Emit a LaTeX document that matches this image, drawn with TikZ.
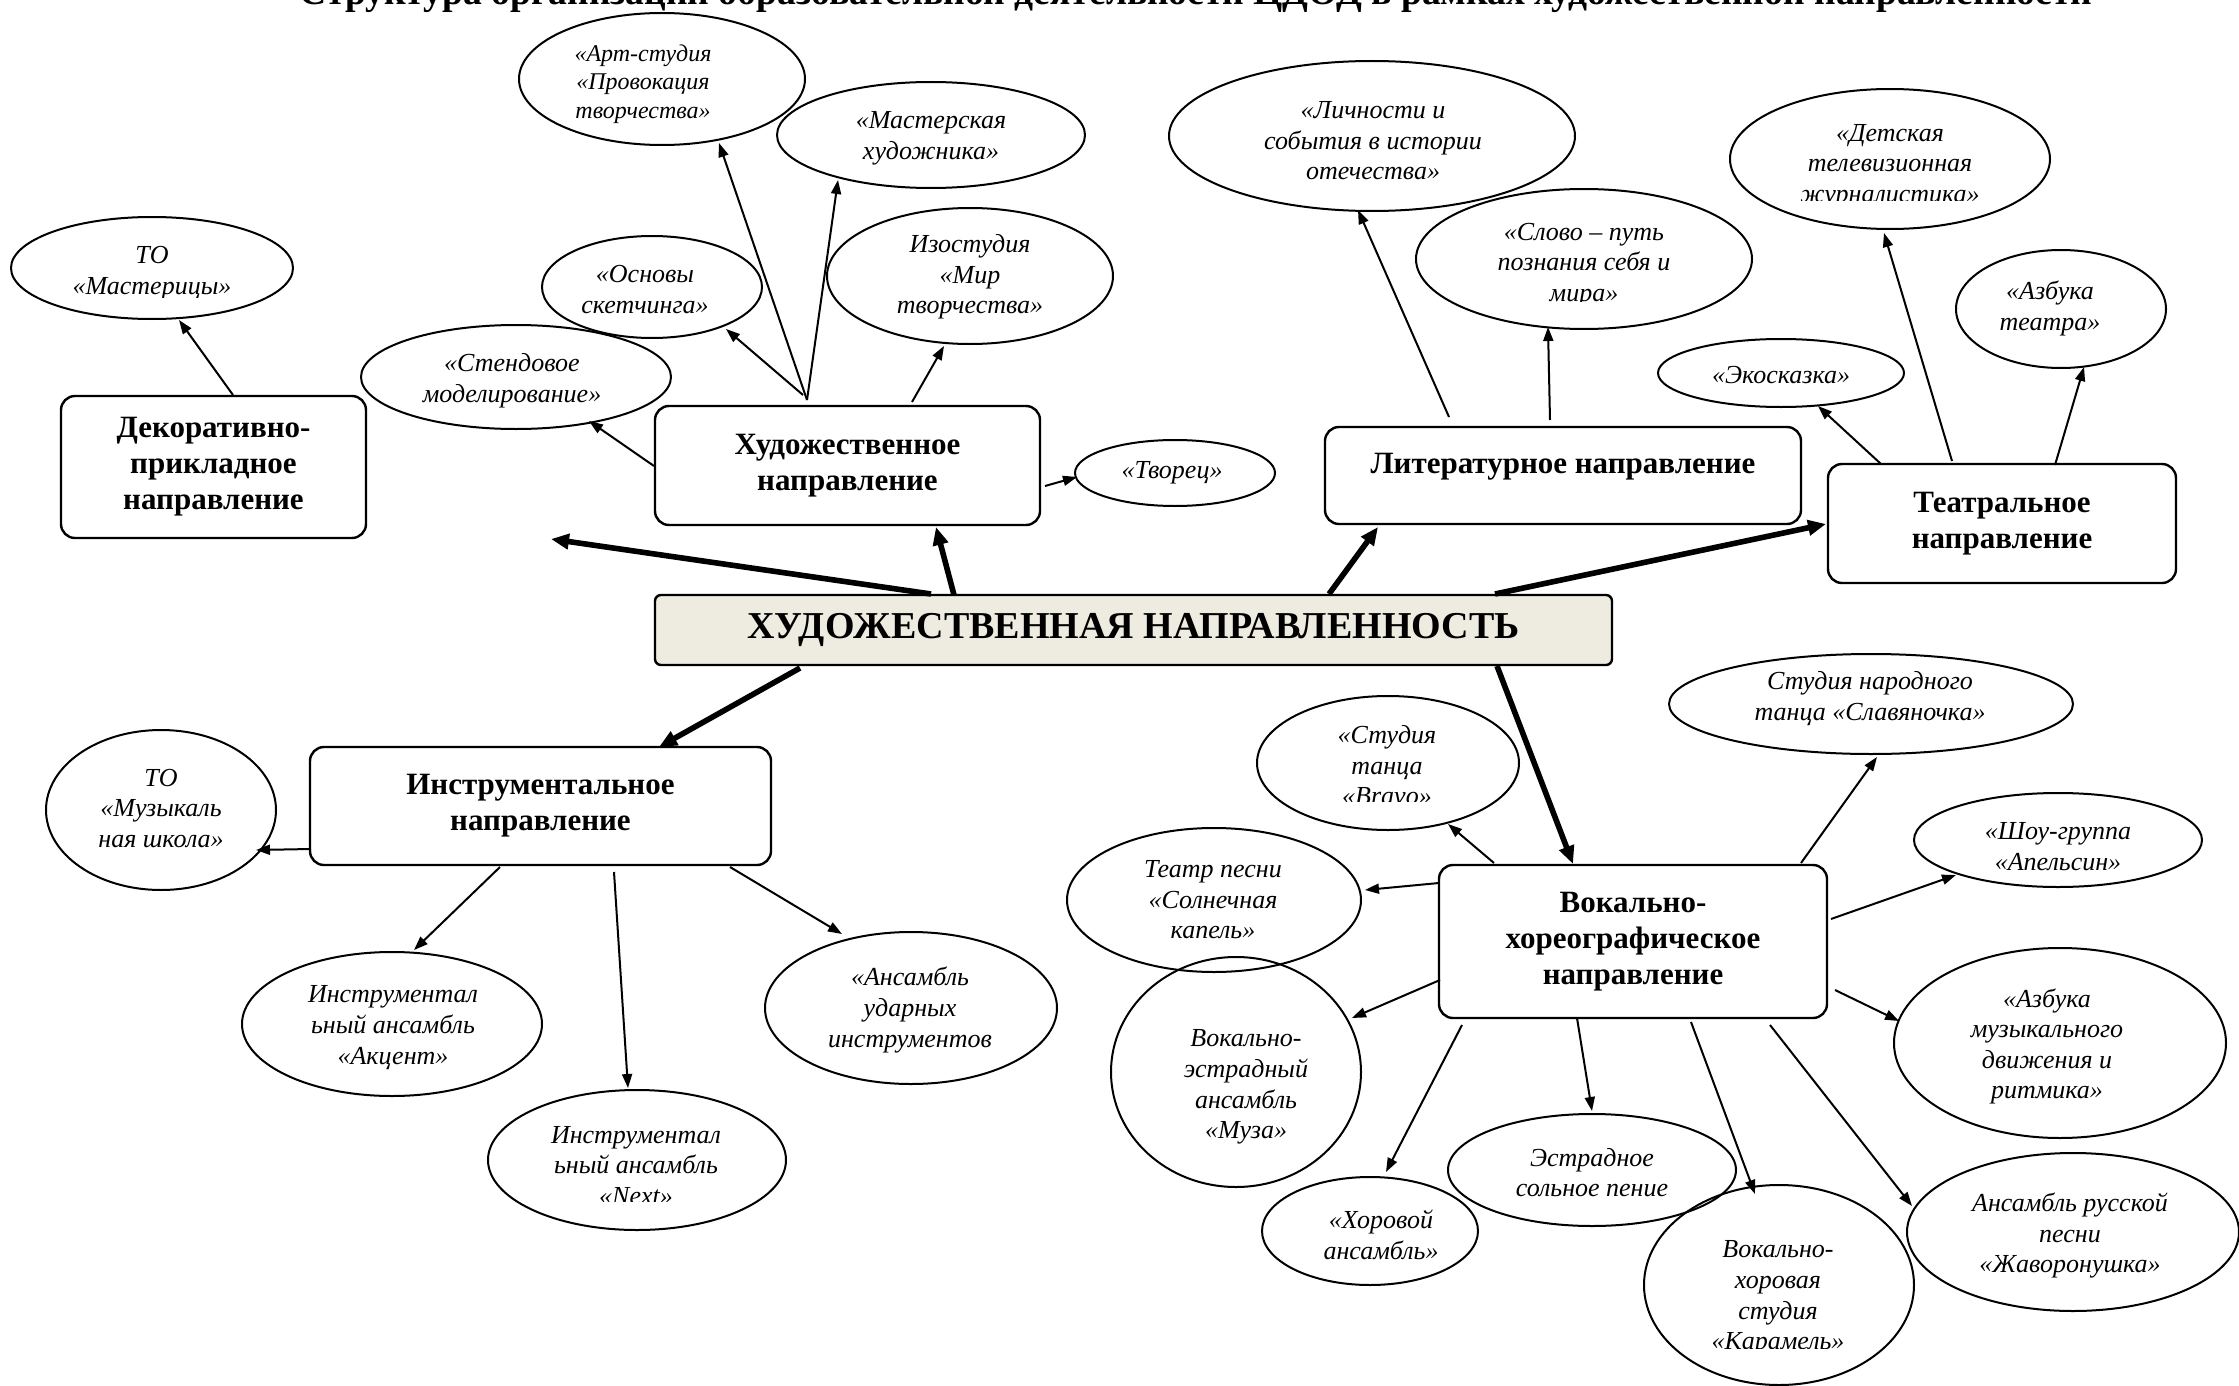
\documentclass[tikz,border=0pt]{standalone}
\usepackage{fontspec}
\setmainfont{Liberation Serif}
\usetikzlibrary{arrows.meta,shapes.geometric}
\definecolor{cenfill}{HTML}{EEECE1}
\tikzset{
  box/.style={draw, line width=1.2pt, rounded corners=7pt, align=center,
    font=\bfseries\fontsize{15.5}{18}\selectfont, inner sep=2pt},
  ell/.style={draw, ellipse, line width=1pt, inner sep=0pt},
  etxt/.style={align=center, font=\itshape\fontsize{13}{15.3}\selectfont, inner sep=0pt},
  arr/.style={line width=1pt, -{Triangle[length=7pt,width=5pt]}},
  bigarr/.style={line width=2.8pt, -{Triangle[length=9pt,width=7.5pt]}},
}
% name, cx, cy, rx, ry, tx, ty, text
\newcommand\ellip[8]{%
  \node[ell, minimum width={#4*1pt}, minimum height={#5*1pt}] (#1) at (#2,#3) {};
  \node[etxt] (#1-t) at (#6,#7) {#8};}
% same, clipped below y = #9
\newcommand\ellipc[9]{%
  \node[ell, minimum width={#4*1pt}, minimum height={#5*1pt}] (#1) at (#2,#3) {};
  \begin{scope}\clip (#2-#4,#3-#5) rectangle (#2+#4,#9);
  \node[etxt] (#1-t) at (#6,#7) {#8};\end{scope}}
\begin{document}
\begin{tikzpicture}[x=0.5pt,y=-0.5pt]
\useasboundingbox (0,0) rectangle (2239,1386);
\clip (0,0) rectangle (2239,1386);

% title (cut at top edge, as in the reference)
\node[font=\bfseries\fontsize{18.8}{20}\selectfont, anchor=base, inner sep=0pt] (title) at (1196,5)
  {Структура организации образовательной деятельности ЦДОД в рамках художественной направленности};

% boxes
\node[box, minimum width=152.5pt, minimum height=71pt] (dek) at (213.5,467) {Декоративно-\\прикладное\\направление};
\node[box, minimum width=192.5pt, minimum height=59.5pt] (hud) at (847.5,465.5) {Художественное\\направление};
\node[box, minimum width=238pt, minimum height=48.5pt] (lit) at (1563,475.5) {\raisebox{12.5pt}{Литературное направление}};
\node[box, minimum width=174pt, minimum height=59.5pt] (tea) at (2002,523.5) {Театральное\\направление};
\node[box, fill=cenfill, rounded corners=3pt, minimum width=478.5pt, minimum height=35pt,
  font=\bfseries\fontsize{19}{23}\selectfont] (cen) at (1133.5,630) {ХУДОЖЕСТВЕННАЯ НАПРАВЛЕННОСТЬ};
\node[box, minimum width=230.5pt, minimum height=59pt] (ins) at (540.5,806) {Инструментальное\\направление};
\node[box, minimum width=194pt, minimum height=76.5pt] (vok) at (1633,941.5) {Вокально-\\хореографическое\\направление};

% ellipses
\node[ell, minimum width=143pt, minimum height=66pt] (art) at (662,79) {};
\node[etxt, font=\itshape\fontsize{12}{14.2}\selectfont] (art-t) at (643,84) {«Арт-студия\\«Провокация\\творчества»};
\ellip{mas}{931}{135}{154}{53}{931}{138.5}{«Мастерская\\художника»}
\ellip{osn}{652}{287}{110}{51}{645}{289.5}{«Основы\\скетчинга»}
\ellipc{izo}{970}{276}{143}{68}{970}{277}{Изостудия\\«Мир\\творчества»}{318}
\ellip{ste}{516}{377}{155}{52}{512}{380.5}{«Стендовое\\моделирование»}
\ellipc{mtr}{152}{268}{141}{51}{152}{273}{ТО\\«Мастерицы»}{297}
\ellip{tvr}{1175}{473}{100}{33}{1172}{473}{«Творец»}
\ellip{lic}{1372}{136}{203}{75}{1373}{141}{«Личности и\\события в истории\\отечества»}
\ellipc{slo}{1584}{259}{168}{70}{1584}{265}{«Слово – путь\\познания себя и\\мира»}{301}
\ellipc{det}{1890}{159}{160}{70}{1890}{166}{«Детская\\телевизионная\\журналистика»}{200}
\ellip{azt}{2061}{309}{105}{59}{2050}{308.5}{«Азбука\\театра»}
\ellip{eko}{1781}{373}{123}{34}{1781}{375}{«Экосказка»}
\ellip{muz}{161}{810}{115}{80}{161}{808.5}{ТО\\«Музыкаль\\ная школа»}
\ellip{akc}{392}{1024}{150}{72}{393}{1027.5}{Инструментал\\ьный ансамбль\\«Акцент»}
\ellipc{nxt}{637}{1160}{149}{70}{636}{1165.5}{Инструментал\\ьный ансамбль\\«Next»}{1201}
\ellip{uda}{911}{1008}{146}{76}{910}{1010}{«Ансамбль\\ударных\\инструментов}
\ellipc{bra}{1388}{763}{131}{67}{1387}{765.5}{«Студия\\танца\\«Bravo»}{801}
\ellip{sol}{1214}{900}{147}{72}{1213}{900}{Театр песни\\«Солнечная\\капель»}
\ellip{sla}{1871}{704}{202}{50}{1870}{698.5}{Студия народного\\танца «Славяночка»}
\ellip{sho}{2058}{840}{144}{47}{2058}{846.5}{«Шоу-группа\\«Апельсин»}
\ellip{azm}{2060}{1043}{166}{95}{2047}{1046.5}{«Азбука\\музыкального\\движения и\\ритмика»}
\ellip{zha}{2073}{1232}{166}{79}{2070}{1235.5}{Ансамбль русской\\песни\\«Жаворонушка»}
\ellip{mza}{1236}{1072}{125}{115}{1246}{1087}{Вокально-\\эстрадный\\ансамбль\\«Муза»}
\ellip{hor}{1370}{1231}{108}{54}{1381}{1235}{«Хоровой\\ансамбль»}
\ellip{est}{1592}{1170}{144}{56}{1592}{1172.5}{Эстрадное\\сольное пение}
\ellipc{kar}{1779}{1285}{135}{100}{1778}{1298}{Вокально-\\хоровая\\студия\\«Карамель»}{1348}

% thick arrows from the centre
\coordinate (dekarr) at (551,539);
\draw[bigarr] ([shift={(-202.5,-36)}]cen.center) -- (dekarr);
\draw[bigarr] ([shift={(-179.5,-35)}]cen.center) -- ([shift={(88.5,61.5)}]hud.center);
\draw[bigarr] ([shift={(195.5,-36)}]cen.center) -- ([shift={(-185,51.5)}]lit.center);
\draw[bigarr] ([shift={(361.5,-36)}]cen.center) -- ([shift={(-176,0.5)}]tea.center);
\draw[bigarr] ([shift={(-333.5,38)}]cen.center) -- ([shift={(118.5,-59)}]ins.center);
\draw[bigarr] ([shift={(363.5,36)}]cen.center) -- ([shift={(-60,-77.5)}]vok.center);

% thin arrows
\draw[arr] ([shift={(19.5,-72)}]dek.center) -- ([shift={(27,52)}]mtr.center);
\draw[arr] ([shift={(-193.5,0.5)}]hud.center) -- ([shift={(73,44)}]ste.center);
\draw[arr] ([shift={(-44.5,-70.5)}]hud.center) -- ([shift={(74,42)}]osn.center);
\draw[arr] ([shift={(-40.5,-65.5)}]hud.center) -- ([shift={(57,64)}]art.center);
\draw[arr] ([shift={(-40.5,-65.5)}]hud.center) -- ([shift={(-93,45)}]mas.center);
\draw[arr] ([shift={(64.5,-63.5)}]hud.center) -- ([shift={(-26,70)}]izo.center);
\draw[arr] ([shift={(197.5,20.5)}]hud.center) -- ([shift={(-98,4)}]tvr.center);

\draw[arr] ([shift={(-114,-58.5)}]lit.center) -- ([shift={(-14,74)}]lic.center);
\draw[arr] ([shift={(-13,-55.5)}]lit.center) -- ([shift={(-36,68)}]slo.center);
\draw[arr] ([shift={(-121,-59.5)}]tea.center) -- ([shift={(37,33)}]eko.center);
\draw[arr] ([shift={(-50,-62.5)}]tea.center) -- ([shift={(-6,74)}]det.center);
\draw[arr] ([shift={(53,-58.5)}]tea.center) -- ([shift={(23,58)}]azt.center);

\draw[arr] ([shift={(-229.5,43)}]ins.center) -- ([shift={(95,40)}]muz.center);
\draw[arr] ([shift={(-40.5,61)}]ins.center) -- ([shift={(22,-74)}]akc.center);
\draw[arr] ([shift={(73.5,66)}]ins.center) -- ([shift={(-9,-72)}]nxt.center);
\draw[arr] ([shift={(189.5,61)}]ins.center) -- ([shift={(-69,-74)}]uda.center);

\draw[arr] ([shift={(-139,-78.5)}]vok.center) -- ([shift={(60,61)}]bra.center);
\draw[arr] ([shift={(-194,-58.5)}]vok.center) -- ([shift={(151,-10)}]sol.center);
\draw[arr] ([shift={(-193,38.5)}]vok.center) -- ([shift={(116,-54)}]mza.center);
\draw[arr] ([shift={(-171,83.5)}]vok.center) -- ([shift={(16,-59)}]hor.center);
\draw[arr] ([shift={(-56,76.5)}]vok.center) -- ([shift={(0,-59)}]est.center);
\draw[arr] ([shift={(58,80.5)}]vok.center) -- ([shift={(-24,-91)}]kar.center);
\draw[arr] ([shift={(137,83.5)}]vok.center) -- ([shift={(-161,-26)}]zha.center);
\draw[arr] ([shift={(202,48.5)}]vok.center) -- ([shift={(-161,-22)}]azm.center);
\draw[arr] ([shift={(198,-22.5)}]vok.center) -- ([shift={(-102,35)}]sho.center);
\draw[arr] ([shift={(168,-78.5)}]vok.center) -- ([shift={(6,53)}]sla.center);
\end{tikzpicture}
\end{document}
